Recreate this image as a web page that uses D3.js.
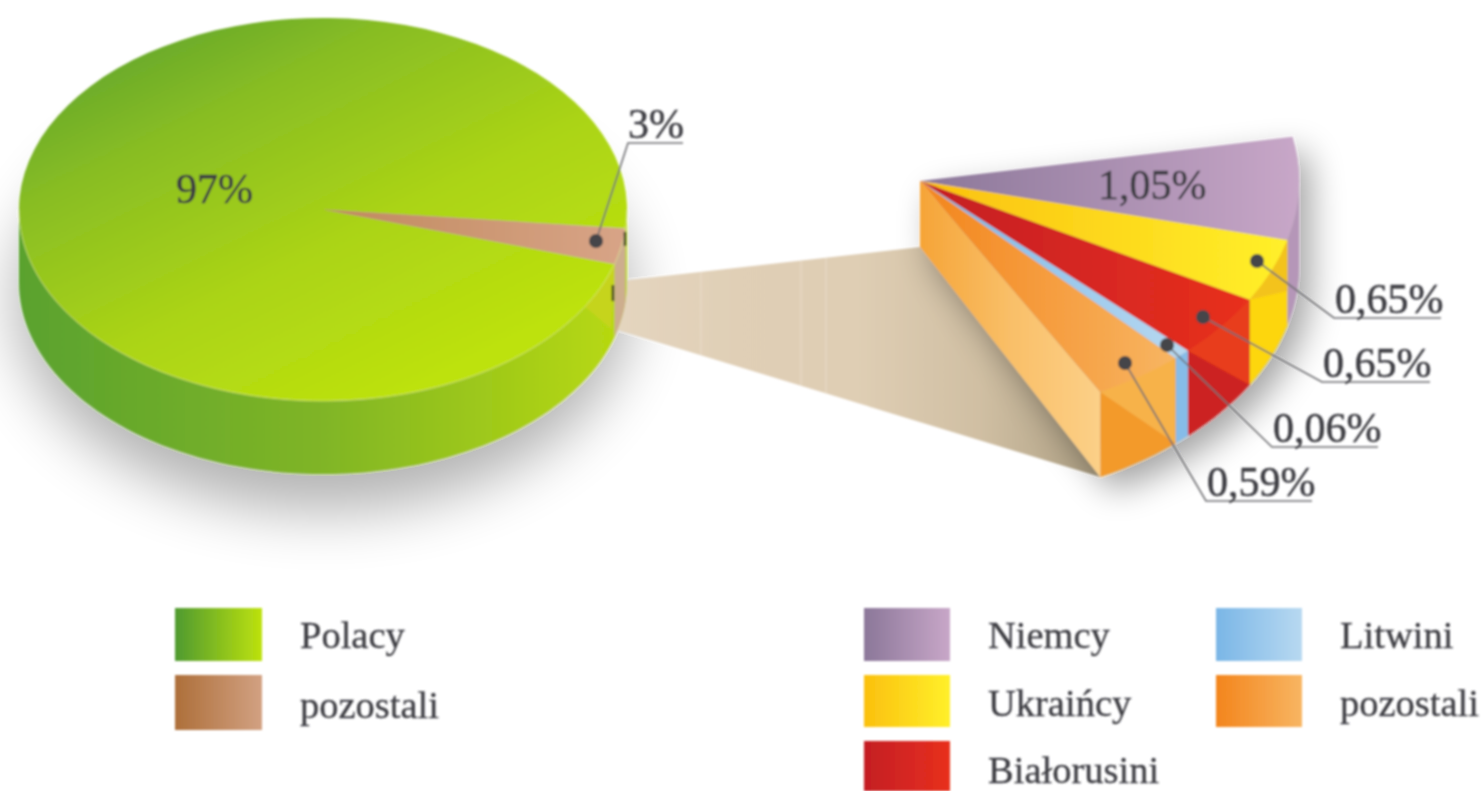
<!DOCTYPE html>
<html>
<head>
<meta charset="utf-8">
<script src="https://cdn.jsdelivr.net/npm/d3@7"></script>
<style>
  html, body { margin: 0; padding: 0; background: #fff; overflow: hidden; }
  text { font-family: "Liberation Serif", serif; fill: #3c3c42; stroke: #3c3c42; stroke-width: 0.5; }
</style>
</head>
<body>
<svg id="chart" width="1484" height="791"></svg>
<script>
// values
var mainNames = ['Polacy', 'pozostali'];
var mainValues = [97, 3];
var mainLabels = ['97%', '3%'];

var detailNames = ['Niemcy', 'Ukraińcy', 'Białorusini', 'Litwini', 'pozostali'];
var detailLabels = ['1,05%', '0,65%', '0,65%', '0,06%', '0,59%'];
// slice widths as drawn in the picture: the Litwini sliver is wider than its printed 0,06%
var detailDrawn = [1.05, 0.65, 0.65, 0.11, 0.59];

// colours, dark to light
var mainColors = [['#4f9a30', '#bde20e'], ['#ad6f3a', '#d2a182']];
var detailColors = [['#8b7799', '#c8a7c8'], ['#fbc00e', '#fff02a'], ['#c41e24', '#e8301e'], ['#7ab6e6', '#b8d9f1'], ['#f3851c', '#f8b562']];

var rad = Math.PI / 180;
var svg = d3.select('#chart');
var defs = svg.append('defs');

defs.append('filter').attr('id', 'soft').append('feGaussianBlur').attr('stdDeviation', 0.9);
defs.append('filter').attr('id', 'shadowMain').attr('x', '-30%').attr('y', '-30%').attr('width', '160%').attr('height', '160%')
    .append('feGaussianBlur').attr('stdDeviation', 30);
defs.append('filter').attr('id', 'shadowDetail').attr('x', '-30%').attr('y', '-30%').attr('width', '160%').attr('height', '160%')
    .append('feGaussianBlur').attr('stdDeviation', 17);

function gradient(id, colors, x2, y2) {
    var g = defs.append('linearGradient').attr('id', id)
        .attr('x1', 0).attr('y1', 0).attr('x2', x2).attr('y2', y2);
    colors.forEach(function(c, i) {
        g.append('stop').attr('offset', i / (colors.length - 1)).attr('stop-color', c);
    });
}

mainColors.forEach(function(c, i) { gradient('main' + i, c, 1, 0); });
detailColors.forEach(function(c, i) { gradient('detail' + i, c, 1, 0); });
gradient('mainTop', ['#4f9a30', '#88bd24', '#abd416', '#bde20e'], 0.72, 0.92);
gradient('mainSide', ['#5aa22f', '#80b526', '#b9da10'], 1, 0);
gradient('brownTop', ['#c08a5e', '#d8a487'], 1, 0);
gradient('band', ['#e4d5bf', '#e0cfb6', '#dfceb4', '#d0bfa3', '#ad9f83'], 1, 0);
gradient('orangeFace', ['#f6a437', '#f9bf68', '#fcd088'], 1, 0);

var g = svg.append('g').attr('filter', 'url(#soft)');

var line = d3.line();

function rim(p, a, drop) {
    return [p.cx + p.rx * Math.sin(a), p.cy - p.ry * Math.cos(a) + (drop || 0)];
}
function arcPoints(p, a0, a1, drop) {
    var n = Math.max(2, Math.ceil(Math.abs(a1 - a0) / (2 * rad)));
    return d3.range(n + 1).map(function(i) {
        return rim(p, a0 + (a1 - a0) * i / n, drop);
    });
}
// side wall between two angles, only the part facing us
function sidePoints(p, a0, a1) {
    var s = Math.max(a0, 90 * rad), e = Math.min(a1, 270 * rad);
    if (e <= s) return null;
    return arcPoints(p, s, e, 0).concat(arcPoints(p, e, s, p.depth));
}
function topFace(parent, p, d) {
    return parent.append('path')
        .attr('transform', 'translate(' + p.cx + ',' + p.cy + ') scale(1,' + (p.ry / p.rx) + ')')
        .attr('d', d3.arc().innerRadius(0).outerRadius(p.rx)(d));
}

var mainPie = { cx: 323, cy: 209.5, rx: 304, ry: 191.5, depth: 73 };
var detailPie = { cx: 920, cy: 181, rx: 379, ry: 240, depth: 85, apexDepth: 66 };

var mainStart = 106.5 * rad;
var mainArcs = d3.pie().sort(null).startAngle(mainStart).endAngle(mainStart + 2 * Math.PI)(mainValues);
var detailArcs = d3.pie().sort(null).startAngle(79.4 * rad).endAngle(151.6 * rad)(detailDrawn);

var brown = mainArcs[1];
var brownA0 = brown.startAngle - 2 * Math.PI, brownA1 = brown.endAngle - 2 * Math.PI;
var lastDetail = detailArcs[detailArcs.length - 1];

// shadows
g.append('ellipse')
    .attr('cx', mainPie.cx).attr('cy', mainPie.cy + 90)
    .attr('rx', mainPie.rx + 4).attr('ry', mainPie.ry + 20)
    .attr('fill', '#000').attr('opacity', 0.3).attr('filter', 'url(#shadowMain)');

// beige band joining both pies
var bandPoints = [
    rim(mainPie, brownA0 + 1.5 * rad, 47),
    [detailPie.cx, detailPie.cy + detailPie.apexDepth],
    rim(detailPie, lastDetail.endAngle, detailPie.depth),
    rim(mainPie, brownA1, mainPie.depth - 8)
];

var detailOutline = arcPoints(detailPie, detailArcs[0].startAngle, 90 * rad, 0)
    .concat(arcPoints(detailPie, 90 * rad, lastDetail.endAngle, detailPie.depth))
    .concat([[detailPie.cx, detailPie.cy + detailPie.apexDepth], [detailPie.cx, detailPie.cy]]);

g.append('path')
    .attr('d', line(bandPoints) + 'Z')
    .attr('fill', 'url(#band)');

// faint seams across the band
var bandTop = d3.scaleLinear().domain([bandPoints[0][0], bandPoints[1][0]]).range([bandPoints[0][1], bandPoints[1][1]]);
var bandBottom = d3.scaleLinear().domain([bandPoints[3][0], bandPoints[2][0]]).range([bandPoints[3][1], bandPoints[2][1]]);
[701, 801, 826].forEach(function(x) {
    g.append('line')
        .attr('x1', x).attr('y1', bandTop(x))
        .attr('x2', x).attr('y2', bandBottom(x))
        .attr('stroke', '#f3e9da').attr('stroke-width', 1.2).attr('opacity', 0.45);
});

g.append('path')
    .attr('d', line(detailOutline) + 'Z')
    .attr('transform', 'translate(12,14)')
    .attr('fill', '#000').attr('opacity', 0.36).attr('filter', 'url(#shadowDetail)');

// main pie walls
g.append('path')
    .attr('d', line(sidePoints(mainPie, 90 * rad, 270 * rad)) + 'Z')
    .attr('fill', 'url(#mainSide)');
g.append('path')
    .attr('d', line(sidePoints(mainPie, brownA0, brownA1)) + 'Z')
    .attr('fill', '#cdae8e');
g.append('path')
    .attr('d', line([rim(mainPie, brownA1), rim(mainPie, brownA1 + 14 * rad), rim(mainPie, brownA1 + 2 * rad, mainPie.depth * 0.8)]) + 'Z')
    .attr('fill', '#cfd321').attr('opacity', 0.65);

// main pie top
topFace(g, mainPie, mainArcs[0]).attr('fill', 'url(#mainTop)');
topFace(g, mainPie, mainArcs[1]).attr('fill', 'url(#brownTop)');
g.append('path')
    .attr('d', line(arcPoints(mainPie, 90 * rad, 270 * rad)))
    .attr('fill', 'none').attr('stroke', '#e8f2a0').attr('stroke-width', 1).attr('opacity', 0.5);

// dark nicks on the rim next to the brown slice
[[brownA0 + 1 * rad, 0, 14], [brownA1 + 1 * rad, 18, 16]].forEach(function(n) {
    var p = rim(mainPie, n[0], n[1]);
    g.append('line')
        .attr('x1', p[0]).attr('y1', p[1])
        .attr('x2', p[0]).attr('y2', p[1] + n[2])
        .attr('stroke', '#3a3a20').attr('stroke-width', 2.5);
});

// detail pie walls
var wallColors = ['#b596b8', '#fdd60a', '#cc2020', '#86bce8', '#f39a2c'];
var wallLight = [null, '#f3c31c', '#e83c1e', null, '#f7b24a'];
detailArcs.forEach(function(d, i) {
    var pts = sidePoints(detailPie, d.startAngle, d.endAngle);
    if (!pts) return;
    g.append('path').attr('d', line(pts) + 'Z').attr('fill', wallColors[i]);
    if (wallLight[i]) {
        g.append('path')
            .attr('d', line([rim(detailPie, d.startAngle), rim(detailPie, d.endAngle), rim(detailPie, d.startAngle, detailPie.depth * (i === 1 ? 0.6 : 1))]) + 'Z')
            .attr('fill', wallLight[i]);
    }
});

// cut face on the left
g.append('path')
    .attr('d', line([
        [detailPie.cx, detailPie.cy],
        rim(detailPie, lastDetail.endAngle),
        rim(detailPie, lastDetail.endAngle, detailPie.depth),
        [detailPie.cx, detailPie.cy + detailPie.apexDepth]
    ]) + 'Z')
    .attr('fill', 'url(#orangeFace)');

// detail pie top
detailArcs.forEach(function(d, i) {
    topFace(g, detailPie, d).attr('fill', 'url(#detail' + i + ')');
});

// leaders: dot, slanted line, underline
var leaders = [
    { dot: [596, 241], bend: [628, 143], end: 683, text: mainLabels[1], tx: 628 },
    { dot: [1257, 261], bend: [1334, 318], end: 1441, text: detailLabels[1], tx: 1335 },
    { dot: [1203, 317], bend: [1322, 382], end: 1430, text: detailLabels[2], tx: 1323 },
    { dot: [1167, 345], bend: [1272, 447], end: 1378, text: detailLabels[3], tx: 1273 },
    { dot: [1125, 363], bend: [1206, 501], end: 1312, text: detailLabels[4], tx: 1207 }
];

leaders.forEach(function(l) {
    g.append('path')
        .attr('d', line([l.dot, l.bend, [l.end, l.bend[1]]]))
        .attr('fill', 'none').attr('stroke', '#6f6f72').attr('stroke-width', 1.6);
    g.append('circle')
        .attr('cx', l.dot[0]).attr('cy', l.dot[1]).attr('r', 7)
        .attr('fill', '#45454a');
    g.append('text')
        .attr('x', l.tx).attr('y', l.bend[1] - 5)
        .attr('font-size', 42).text(l.text);
});

g.append('text').attr('x', 176).attr('y', 203).attr('font-size', 42).text(mainLabels[0]);
g.append('text').attr('x', 1098).attr('y', 199).attr('font-size', 42).text(detailLabels[0]);

// legends
var legendMain = mainNames.map(function(n, i) {
    return { name: n, fill: 'url(#main' + i + ')', x: 175, w: 87, y: [608, 675][i], h: [53, 55][i], tx: 300, ty: [648, 718][i] };
});
var legendRows = [608, 675, 741];
var legendHeights = [53, 52, 50];
var legendDetail = detailNames.map(function(n, i) {
    var col = i < 3 ? 0 : 1, row = i < 3 ? i : i - 3;
    return {
        name: n, fill: 'url(#detail' + i + ')',
        x: col ? 1216 : 864, w: 86, y: legendRows[row], h: legendHeights[row],
        tx: col ? 1340 : 988, ty: [648, 716, 783][row]
    };
});

var items = g.selectAll('.legend')
    .data(legendMain.concat(legendDetail))
  .enter().append('g')
    .attr('class', 'legend');
items.append('rect')
    .attr('x', function(d) { return d.x; })
    .attr('y', function(d) { return d.y; })
    .attr('width', function(d) { return d.w; })
    .attr('height', function(d) { return d.h; })
    .attr('fill', function(d) { return d.fill; });
items.append('text')
    .attr('x', function(d) { return d.tx; })
    .attr('y', function(d) { return d.ty; })
    .attr('font-size', 38.5)
    .style('stroke-width', 0.3)
    .text(function(d) { return d.name; });
</script>
</body>
</html>
